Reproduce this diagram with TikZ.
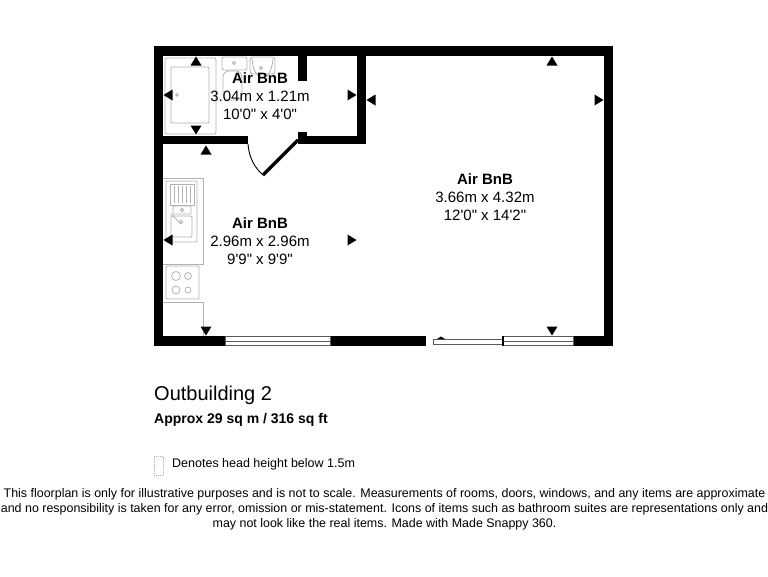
\documentclass[tikz,border=0pt]{standalone}
\usepackage{fontspec}
\setmainfont{Liberation Sans}
\usetikzlibrary{positioning}
\newcommand{\ft}{\textquotesingle}
\newcommand{\inch}{\textquotedbl}
\begin{document}
\begin{tikzpicture}
	[x=1pt, y=-1pt,
	wall/.style={fill=black},
	fixture/.style={draw=black!30, line width=0.8pt},
	pane/.style={draw=black!65, fill=white, line width=0.6pt},
	room/.style={align=center, font=\fontsize{15}{17.8}\selectfont, inner sep=0pt},
	note/.style={anchor=west, inner sep=0pt}]
	\useasboundingbox (0,0) rectangle (768,576);
	% fixtures
	\draw[fixture, rounded corners=2] (165,58) rectangle (216,134);
	\draw[fixture, rounded corners=1] (171,67) rectangle (209,123);
	\draw[fixture] (177,95) circle (1.2);
	\draw[fixture, rounded corners=2] (222,57) rectangle (247,70);
	\draw[fixture, rounded corners=6] (223,71) rectangle (242,100);
	\draw[fixture] (234,63) circle (1.5);
	\draw[fixture, rounded corners=3] (250,57) rectangle (275,74);
	\draw[fixture] (252,59) .. controls (254,84) and (271,84) .. (273,59);
	\draw[fixture] (261,68) circle (1.5);
	\draw[fixture] (163,178) -- (203,178) -- (203,264) -- (163,264);
	\draw[fixture, rounded corners=1] (166,181) rectangle (197,242);
	\draw[fixture] (170,184) rectangle (194,205);
	\foreach \x in {174,178,...,190} \draw[fixture] (\x,186) -- (\x,203);
	\draw[fixture, rounded corners=1] (173,206) rectangle (191,214);
	\draw[fixture] (182,210) circle (1.8);
	\draw[fixture, rounded corners=1] (171,216) rectangle (192,237);
	\draw[fixture] (181,222) circle (1.8);
	\draw[fixture] (171,214) -- (181,224);
	\draw[fixture, rounded corners=1] (166,266) rectangle (199,299);
	\foreach \x/\y/\r in {176/276/4.5,188/276/3.5,176/290/4,188/290/3} \draw[fixture] (\x,\y) circle (\r);
	\draw[fixture] (163,302) -- (203,302) -- (203,336);
	% walls
	\fill[wall] (154,46) rectangle (613,56);
	\fill[wall] (154,46) rectangle (163,346);
	\fill[wall] (604,46) rectangle (613,346);
	\fill[wall] (154,336) rectangle (426,346);
	\fill[wall] (573,336) rectangle (613,346);
	\fill[wall] (163,136) rectangle (248,144);
	\fill[wall] (298,136) rectangle (366,144);
	\fill[wall] (357,46) rectangle (366,144);
	\fill[wall] (298,56) rectangle (307,81);
	\fill[wall] (298,132) rectangle (307,144);
	% door
	\draw[line width=0.9pt] (248,144) .. controls (249,158) and (255,168) .. (263,175);
	\draw[line width=3.2pt] (263,175) -- (298,140);
	% windows
	\draw[pane] (225,336.5) rectangle (330,345.5);
	\draw[pane] (225,341) -- (330,341);
	\draw[pane] (433,339) rectangle (502,344);
	\draw[pane] (503,336.5) rectangle (573,345.5);
	\draw[pane] (503,341) -- (573,341);
	\fill[wall] (502,336) rectangle (504,346);
	\fill[wall] (437,339) -- (441,336.5) -- (445,339) -- cycle;
	% markers
	\foreach \x/\y/\a in {196/61/0, 206/150/0, 552/61/0,
		196/130/180, 206/331/180, 552/331/180,
		168/95/90, 168/240/90, 371/100/90,
		352/95/-90, 352/240/-90, 599/100/-90}
		\fill[wall, shift={(\x,\y)}, rotate=\a] (-5.5,4.5) -- (5.5,4.5) -- (0,-4.5) -- cycle;
	% labels
	\node[room] (bath label) at (260,96) {\textbf{Air BnB}\\3.04m x 1.21m\\10\ft0\inch{} x 4\ft0\inch};
	\node[room] (kitchen label) at (260,241) {\textbf{Air BnB}\\2.96m x 2.96m\\9\ft9\inch{} x 9\ft9\inch};
	\node[room] (main label) at (485,197) {\textbf{Air BnB}\\3.66m x 4.32m\\12\ft0\inch{} x 14\ft2\inch};
	\node[note, font=\fontsize{20}{22}\selectfont] (plan title) at (154,395.5) {Outbuilding 2};
	\node[note, font=\fontsize{14}{16}\selectfont\bfseries] (plan area) at (154,420) {Approx 29 sq m / 316 sq ft};
	\draw[black!30, densely dotted, line width=0.9pt] (154,456) rectangle (163,475);
	\node[note, font=\fontsize{12.5}{15}\selectfont] (key text) at (172,464) {Denotes head height below 1.5m};
	\node[align=center, inner sep=0pt, font=\fontsize{12.45}{14.8}\selectfont] (disclaimer) at (384.5,509.5) {This floorplan is only for illustrative purposes and is not to scale. Measurements of rooms, doors, windows, and any items are approximate\\and no responsibility is taken for any error, omission or mis-statement. Icons of items such as bathroom suites are representations only and\\may not look like the real items. Made with Made Snappy 360.};
\end{tikzpicture}
\end{document}
